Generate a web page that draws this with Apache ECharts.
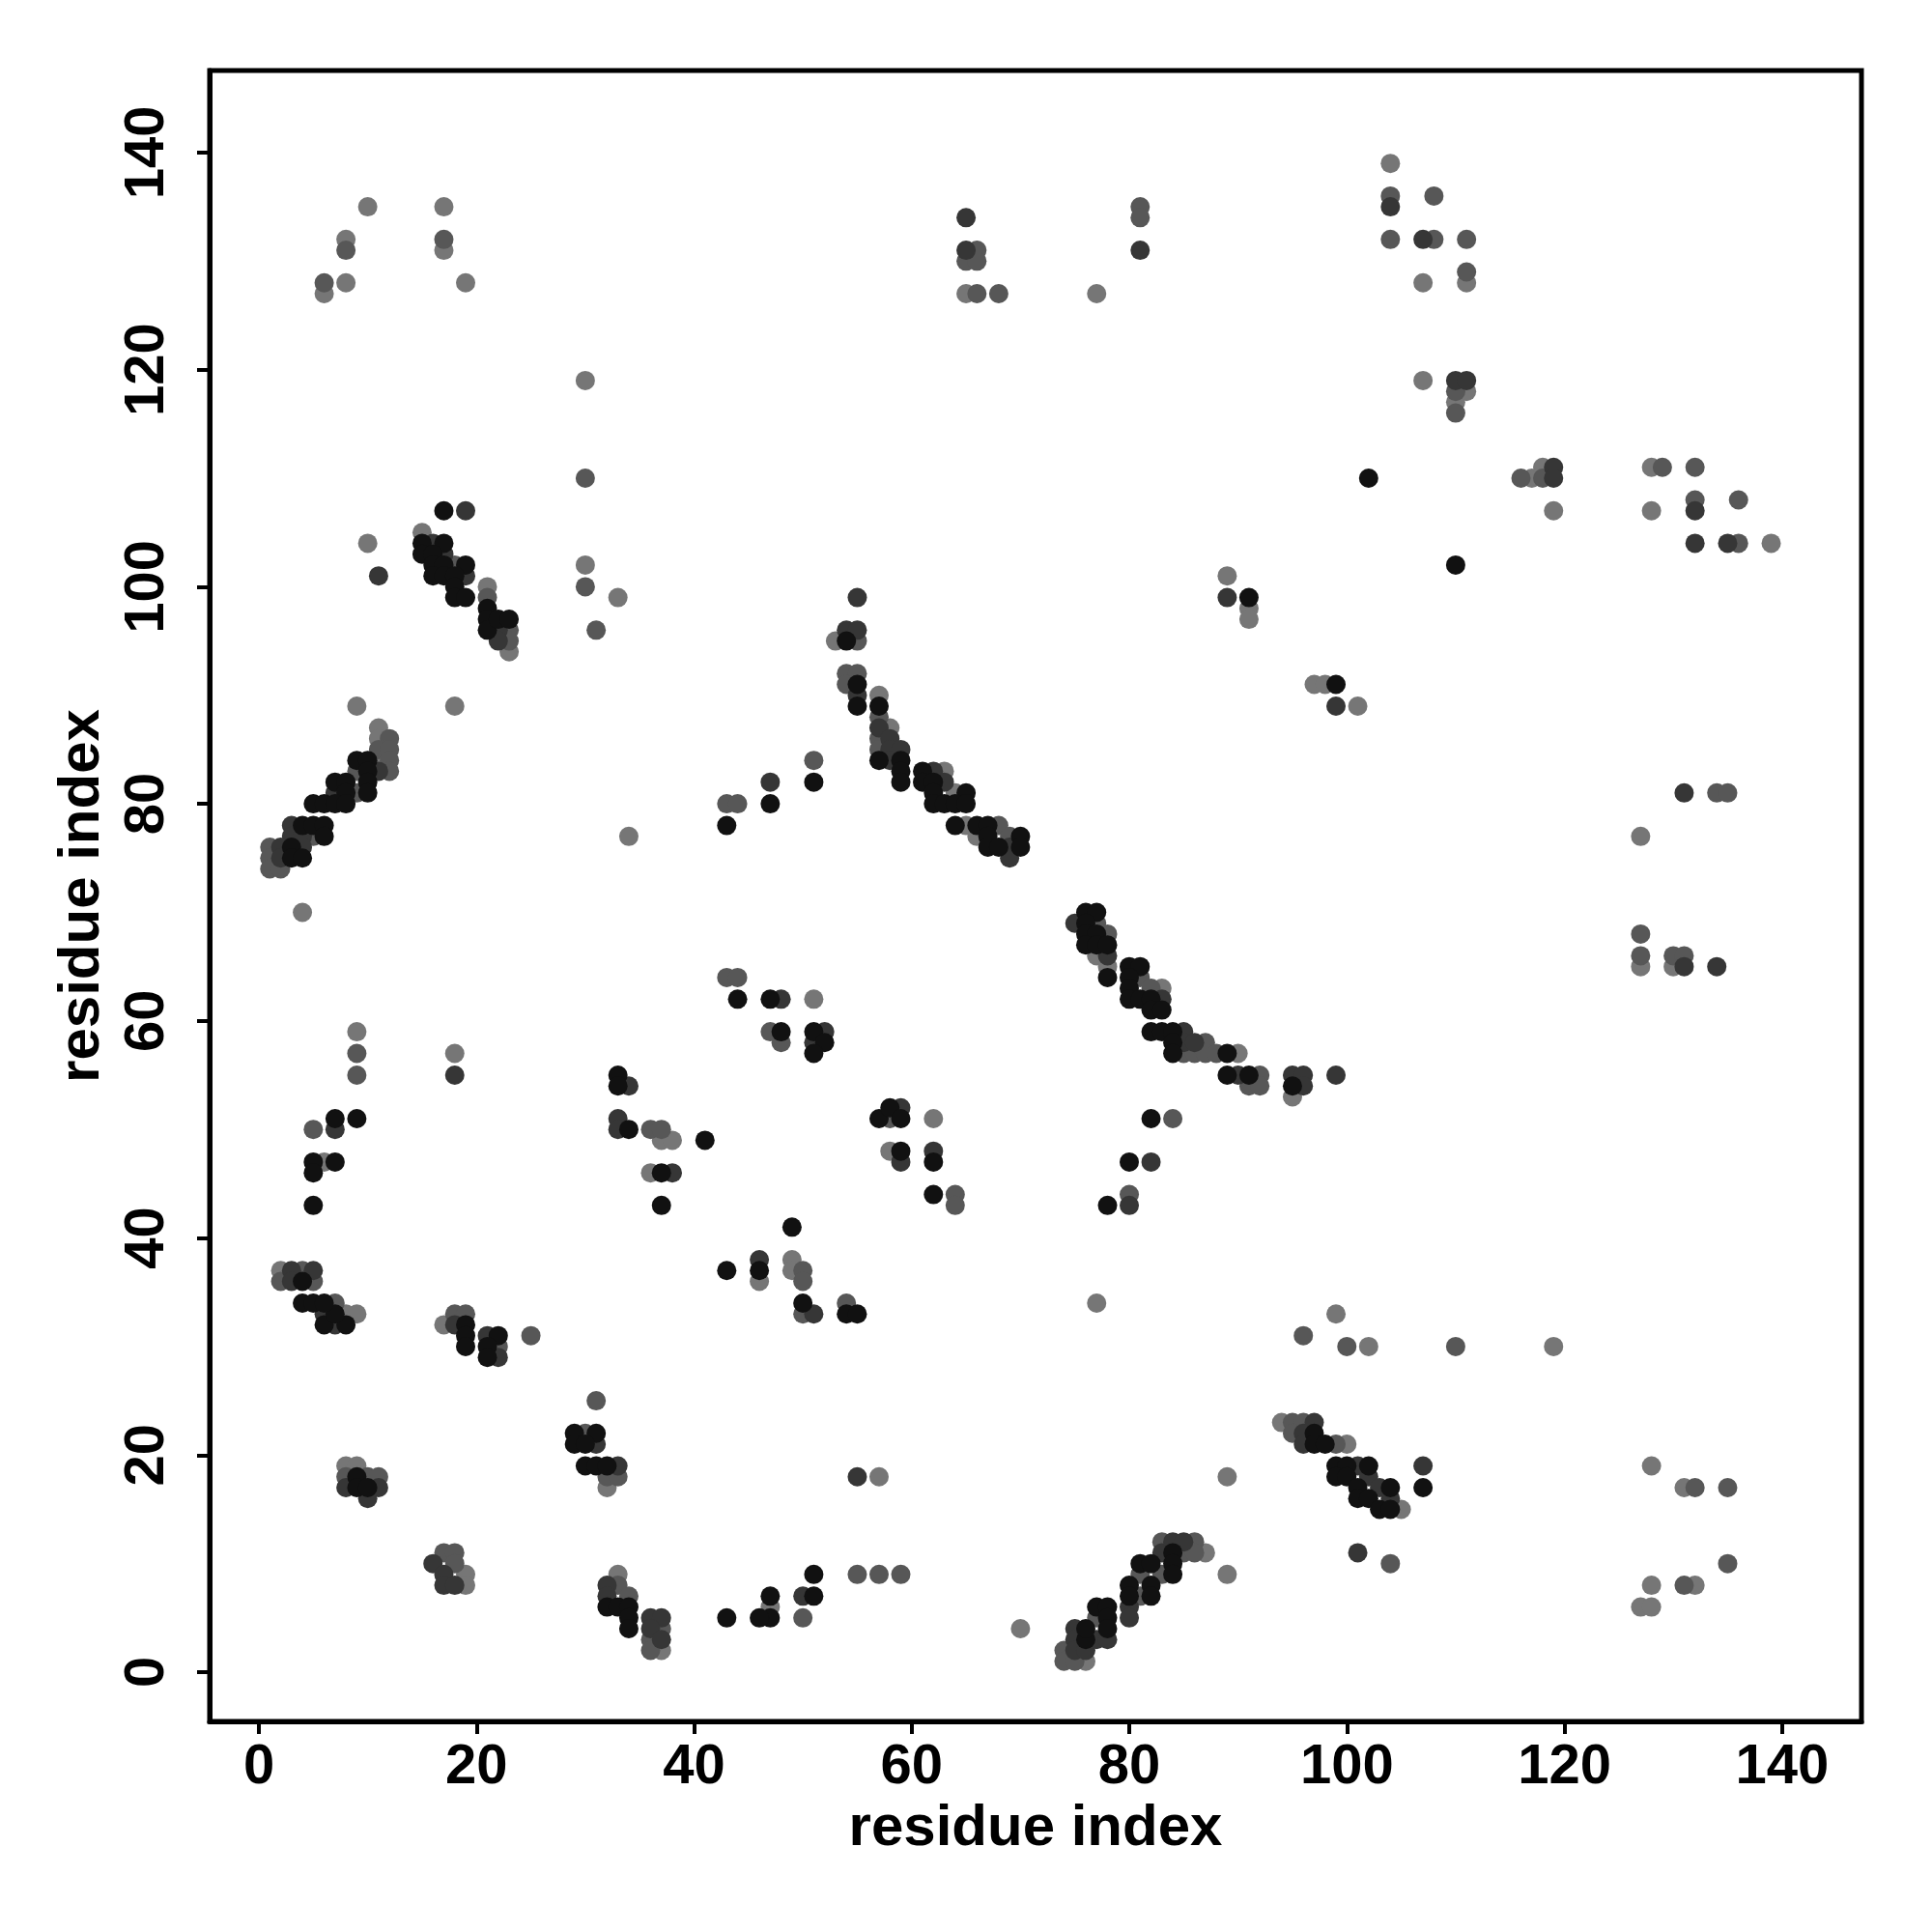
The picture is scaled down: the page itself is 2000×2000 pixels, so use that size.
<!DOCTYPE html>
<html>
<head>
<meta charset="utf-8">
<script src="https://cdn.jsdelivr.net/npm/echarts@6/dist/echarts.min.js"></script>
<style>
  html, body { margin: 0; padding: 0; background: #fff; }
  #chart { width: 2000px; height: 2000px; }
</style>
</head>
<body>
<div id="chart"></div>
<script>
// Tick labels
const xTicks = [0, 20, 40, 60, 80, 100, 120, 140];
const yTicks = [0, 20, 40, 60, 80, 100, 120, 140];

// Contacts grouped by grey shade: [residue i, residue j]
const lightPts = [
  [8,132],[17,131],[6,127],[8,128],[30,119],[10,135],[17,135],[19,128],
  [65,127],[77,127],
  [104,139],[107,128],[111,128],[107,119],[111,118],[110,117],[117,110],[118,111],[128,111],
  [119,107],[128,107],[139,104],[97,91],[98,91],[101,89],[127,77],
  [127,65],[130,65],[99,33],
  [102,30],[119,30],[100,21],[105,15],[128,19],[131,17],[128,8],[132,8],[127,6],[128,6],[94,23],
  [77,34],[57,18],[89,18],[89,9],[47,6],[70,4],[76,1],[87,11],
  [8,33],[9,33],[17,32],[32,17],[8,19],[9,19],[19,9],[19,8],[33,9],[37,2],
  [4,70],[9,59],[18,57],[6,47],[37,49],[38,49],[36,46],[2,37],[46,36],
  [51,62],[77,66],[78,65],[83,63],[90,57],[95,53],[62,51],[58,48],[49,38],[49,37],
  [10,104],[15,105],[21,100],[23,94],[30,102],[33,99],[9,89],[18,89],[11,87],[11,86],[11,84],[34,77],
  [53,95],[57,90],[58,87],[63,83],[64,81],[65,78],[66,77],[89,101],[91,98],[91,97]
];
const midPts = [
  [8,131],[17,132],[6,128],[30,110],
  [65,130],[66,131],[66,130],[66,127],[68,127],[81,135],[81,134],
  [104,136],[108,136],[104,132],[108,132],[111,132],[111,129],[110,118],[110,116],[116,110],[118,110],[129,111],[132,111],
  [132,108],[136,108],[136,104],[134,81],[135,81],
  [127,68],[127,66],[130,66],[131,66],
  [100,30],[110,30],[99,21],[132,17],[135,17],[135,10],[131,8],[104,10],[95,23],[96,23],[95,22],
  [50,33],[96,31],[55,9],[57,9],[59,9],[50,5],[74,2],[74,1],[75,1],[77,5],[81,9],[81,7],[83,12],[83,9],[85,11],[86,12],[86,11],
  [18,33],[19,33],[25,31],[22,30],[31,25],[30,22],[32,18],[33,18],[8,18],[10,18],[11,18],[17,11],[18,11],[18,10],[33,8],[34,7],[37,4],[36,3],[36,2],
  [9,57],[9,55],[5,50],[36,50],[37,50],[43,64],[44,64],[4,37],[2,36],[5,36],[7,34],
  [47,59],[48,58],[77,69],[78,68],[81,64],[82,63],[87,58],[85,57],[86,57],[87,57],[88,57],[92,55],[91,54],[92,54],[58,51],[64,44],[64,43],[84,51],[80,44],[50,37],[50,36],[54,34],
  [18,102],[21,99],[23,96],[23,95],[30,100],[31,96],[12,86],[11,85],[12,85],[12,84],[12,83],[9,83],[9,81],[5,77],[1,76],[1,75],[1,74],[2,74],[43,80],[44,80],
  [51,84],[55,95],[54,92],[55,92],[54,91],[57,88],[57,86],[57,85],[68,78],[69,77]
];
const darkPts = [
  [65,134],[65,131],[81,131],
  [104,135],[107,132],[110,119],[111,119],[119,111],[119,110],
  [132,107],[132,104],[135,104],[99,89],[131,81],
  [131,65],[134,65],[99,55],
  [101,19],[102,18],[103,17],[104,16],[107,19],[101,11],[97,23],[96,22],[96,21],
  [51,33],[55,18],[50,7],[75,4],[75,3],[75,2],[76,2],[77,3],[78,3],[80,6],[80,5],[83,11],[84,12],[85,12],
  [7,32],[18,32],[21,31],[22,29],[31,21],[33,19],[8,17],[11,17],[10,16],[16,10],[17,9],[17,8],[18,8],[32,8],[32,7],[36,5],[37,5],[36,4],[37,3],[6,33],
  [18,55],[7,50],[34,54],[33,51],[33,50],[38,46],[3,37],[5,37],[3,36],[46,38],
  [48,62],[52,59],[51,58],[75,69],[78,66],[83,62],[85,59],[85,58],[86,58],[90,55],[95,55],[96,55],[96,54],[59,52],[59,47],[62,48],[80,43],[82,47],
  [19,107],[11,101],[16,104],[17,103],[19,101],[22,96],[22,95],[11,83],[7,81],[3,78],[3,77],[4,77],[2,76],[2,75],[4,76],
  [47,82],[55,99],[54,96],[55,96],[57,87],[58,86],[58,85],[59,85],[58,84],[62,83],[63,82],[69,76],[69,75],[89,99],[55,90]
];
const blackPts = [
  [102,110],[110,102],[99,91],
  [99,19],[100,19],[102,19],[99,18],[100,18],[101,17],[104,17],[101,16],[102,16],[103,15],[104,15],[107,17],[97,22],[97,21],[98,21],
  [54,33],[55,33],[51,9],[47,7],[47,5],[46,5],[51,7],[76,3],[76,4],[77,6],[78,6],[78,5],[78,4],[80,8],[80,7],[81,10],[82,10],[82,8],[82,7],[84,11],[84,10],[84,9],
  [6,32],[8,32],[19,32],[19,31],[19,30],[22,31],[21,30],[21,29],[29,22],[31,22],[29,21],[30,21],[30,19],[31,19],[32,19],[9,18],[9,17],[10,17],[32,6],[33,6],[34,6],[34,5],[34,4],[43,5],[7,33],
  [9,51],[7,51],[5,47],[7,47],[5,46],[5,43],[33,55],[33,54],[34,50],[41,49],[37,46],[37,43],[44,62],[4,36],[4,34],[5,34],[6,34],[43,37],[46,37],
  [47,62],[48,59],[51,59],[52,58],[51,57],[76,70],[77,70],[76,69],[76,68],[77,68],[76,67],[77,67],[78,67],[78,64],[80,65],[81,65],[80,64],[80,63],[80,62],[81,62],[82,62],[82,61],[83,61],[82,59],[83,59],[84,59],[84,58],[84,57],[89,57],[89,55],[91,55],[95,54],[57,51],[58,52],[59,51],[59,48],[62,47],[62,44],[82,51],[80,47],[78,43],[49,41],[50,34],
  [17,107],[15,104],[15,103],[17,104],[16,103],[16,102],[17,102],[19,102],[16,101],[17,101],[18,101],[18,100],[18,99],[19,99],[21,98],[21,97],[21,96],[22,97],[23,97],[9,84],[10,84],[10,83],[7,82],[8,82],[10,82],[8,81],[10,81],[5,80],[6,80],[7,80],[8,80],[4,78],[5,78],[6,78],[6,77],[3,76],[3,75],[4,75],[43,78],
  [47,80],[51,82],[54,95],[55,91],[55,89],[57,89],[57,84],[59,84],[59,83],[59,82],[61,83],[61,82],[62,82],[62,81],[65,81],[62,80],[63,80],[64,80],[65,80],[64,78],[66,78],[67,78],[67,77],[70,77],[67,76],[68,76],[70,76],[91,99]
];

const FONT = '"Liberation Sans", Arial, Helvetica, sans-serif';
const chart = echarts.init(document.getElementById('chart'), null, { renderer: 'canvas' });

function series(data, color) {
  return {
    type: 'scatter',
    data: data,
    symbol: 'circle',
    symbolSize: 20,
    itemStyle: { color: color, opacity: 1 },
    emphasis: { disabled: true },
    silent: true
  };
}

chart.setOption({
  animation: false,
  backgroundColor: '#ffffff',
  grid: {
    left: 217, right: 73, top: 73, bottom: 218,
    show: true, borderColor: '#000', borderWidth: 5, backgroundColor: 'transparent'
  },
  xAxis: {
    type: 'value',
    min: -4.53, max: 147.3,
    splitLine: { show: false },
    axisLine: { show: true, onZero: false, lineStyle: { color: '#000', width: 5 } },
    axisTick: { show: true, length: 13, customValues: xTicks, lineStyle: { color: '#000', width: 4 } },
    axisLabel: {
      customValues: xTicks, margin: 19,
      fontFamily: FONT, fontWeight: 'bold', fontSize: 58, color: '#000'
    },
    name: 'residue index',
    nameLocation: 'middle',
    nameGap: 79,
    nameTextStyle: { fontFamily: FONT, fontWeight: 'bold', fontSize: 60, color: '#000' }
  },
  yAxis: {
    type: 'value',
    min: -4.54, max: 147.56,
    splitLine: { show: false },
    axisLine: { show: true, onZero: false, lineStyle: { color: '#000', width: 5 } },
    axisTick: { show: true, length: 13, customValues: yTicks, lineStyle: { color: '#000', width: 4 } },
    axisLabel: {
      customValues: yTicks, margin: 35, rotate: 90,
      fontFamily: FONT, fontWeight: 'bold', fontSize: 58, color: '#000'
    },
    name: 'residue index',
    nameLocation: 'middle',
    nameGap: 102,
    nameTextStyle: { fontFamily: FONT, fontWeight: 'bold', fontSize: 60, color: '#000' }
  },
  series: [
    series(lightPts, '#767676'),
    series(midPts, '#575757'),
    series(darkPts, '#363636'),
    series(blackPts, '#111111')
  ]
});
</script>
</body>
</html>
